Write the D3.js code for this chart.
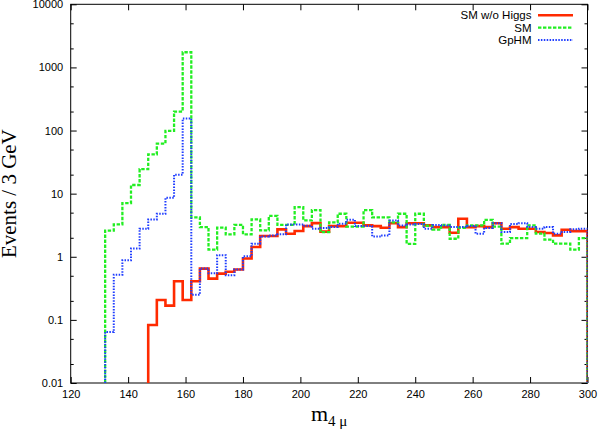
<!DOCTYPE html>
<html>
<head>
<meta charset="utf-8">
<script src="https://cdn.jsdelivr.net/npm/d3@7/dist/d3.min.js"></script>
<style>
body { margin: 0; background: #fff; }
svg { display: block; }
</style>
</head>
<body>
<div id="chart"></div>
<script>
// lower edge of each 3 GeV bin, the last one closes at binEnd
var binStart = [132,135,138,141,144,147,150,153,156,159,162,165,168,171,174,177,180,183,186,189,
  192,195,198,201,204,207,210,213,216,219,222,225,228,231,234,237,240,243,246,249,
  252,255,258,261,264,267,270,273,276,279,282,285,288,291,294,297];
var binEnd = 300;

// events / 3 GeV
var smNoHiggs = [null,null,null,null,null,0.083,0.206,0.168,0.41,0.206,0.41,0.65,0.45,0.54,0.58,0.63,0.94,1.43,2.13,2.13,
  2.72,2.32,2.56,3.06,3.41,2.5,3.06,3.06,3.46,3.46,3.14,3.06,2.88,3.4,2.95,3.4,3.4,3.14,2.95,2.95,
  2.4,4.0,2.95,3.06,2.95,3.4,2.78,2.95,2.78,2.78,2.47,2.38,2.18,2.68,2.55,2.55];
var sm = [2.6,3.25,7.1,13.7,24.5,42,62,99,200,1740,4.2,2.95,1.3,2.9,2.27,3.2,2.27,3.9,2.62,4.46,
  3.2,3.2,6.1,3.77,5.5,2.46,3.5,4.8,3.0,3.0,5.5,4.2,4.2,3.5,4.8,1.6,4.8,3.1,2.7,3.2,
  1.93,2.88,3.14,3.14,3.85,3.0,1.61,1.98,1.98,3.14,2.32,1.87,1.61,1.61,1.3,1.98];
var gphm = [0.064,0.52,0.88,1.35,2.78,3.9,4.8,8.6,20,155,0.25,0.65,0.55,1.06,0.51,0.63,1.02,1.61,2.1,2.18,
  2.27,3.25,3.25,3.1,2.78,2.85,2.95,3.33,3.85,3.06,3.06,2.1,2.18,3.77,3.14,3.25,3.3,2.78,3.2,3.14,
  2.95,2.95,3.06,2.32,2.85,3.4,2.47,3.3,3.4,2.95,2.78,2.95,2.32,2.47,2.72,2.78];

var xTicks = [120,140,160,180,200,220,240,260,280,300];
var yTicks = [0.01,0.1,1,10,100,1000,10000];
var yTickLabels = ["0.01","0.1","1","10","100","1000","10000"];
var yMinor = [0.02,0.05,0.2,0.5,2,5,20,50,200,500,2000,5000];

var seriesNames = ["SM w/o Higgs","SM","GpHM"];

var width = 599, height = 429;
var pLeft = 70.7, pRight = 587.5, pTop = 4.3, pBottom = 383;

var svg = d3.select("#chart").append("svg").attr("width", width).attr("height", height)

var x = d3.scaleLinear().domain([120, 300]).range([pLeft, pRight]);
var y = d3.scaleLog().domain([0.01, 10000]).range([pBottom, pTop]);

svg.append("defs").append("clipPath").attr("id", "plotclip")
  .append("rect").attr("x", pLeft).attr("y", pTop).attr("width", pRight - pLeft).attr("height", pBottom - pTop)

var font = "'Liberation Sans', Arial, sans-serif";

//axes, ticks pointing inward like gnuplot
svg.append("g").attr("transform", "translate(0," + pBottom + ")")
  .call(d3.axisBottom(x).tickValues(xTicks).tickSizeInner(-6).tickSizeOuter(0).tickPadding(7.5).tickFormat(d3.format("d")))
svg.append("g").attr("transform", "translate(0," + pTop + ")")
  .call(d3.axisTop(x).tickValues(xTicks).tickSizeInner(-6).tickSizeOuter(0).tickFormat(""))
svg.append("g").attr("transform", "translate(" + pLeft + ",0)")
  .call(d3.axisLeft(y).tickValues(yTicks).tickSizeInner(-6).tickSizeOuter(0).tickPadding(7.5)
    .tickFormat((d, i) => yTickLabels[i]))
svg.append("g").attr("transform", "translate(" + pLeft + ",0)")
  .call(d3.axisLeft(y).tickValues(yMinor).tickSizeInner(-3).tickSizeOuter(0).tickFormat(""))
svg.append("g").attr("transform", "translate(" + pRight + ",0)")
  .call(d3.axisRight(y).tickValues(yTicks).tickSizeInner(-6).tickSizeOuter(0).tickFormat(""))
svg.append("g").attr("transform", "translate(" + pRight + ",0)")
  .call(d3.axisRight(y).tickValues(yMinor).tickSizeInner(-3).tickSizeOuter(0).tickFormat(""))

svg.selectAll(".domain").remove()
svg.selectAll(".tick line").attr("stroke", "#000").attr("stroke-width", 1)
svg.selectAll(".tick text").attr("font-family", font).attr("font-size", "11px").attr("fill", "#000")

svg.append("rect").attr("x", pLeft).attr("y", pTop).attr("width", pRight - pLeft).attr("height", pBottom - pTop)
  .attr("fill", "none").attr("stroke", "#000").attr("stroke-width", 1)

//histogram steps
function stepPoints(values) {
  var i0 = values.findIndex(v => v != null);
  var pts = [[binStart[i0], 0.01]];
  for (var i = i0; i < values.length; i++) pts.push([binStart[i], values[i]]);
  pts.push([binEnd, values[values.length - 1]]);
  pts.push([binEnd, 0.01]);
  return pts;
}
var line = d3.line()
  .x(d => x(d[0]))
  .y(d => y(Math.max(d[1], 0.01)))
  .curve(d3.curveStepAfter)

var styles = [
  { color: "#ff2a00", width: 2.6, dash: null },
  { color: "#22ee22", width: 2.3, dash: "3.4,1.6" },
  { color: "#1f3dff", width: 2, dash: "1.5,1.4" }
];
var allSeries = [smNoHiggs, sm, gphm];

var plot = svg.append("g").attr("clip-path", "url(#plotclip)")
allSeries.forEach((vals, i) => {
  plot.append("path").datum(stepPoints(vals))
    .attr("d", line)
    .attr("fill", "none")
    .attr("stroke", styles[i].color)
    .attr("stroke-width", styles[i].width)
    .attr("stroke-dasharray", styles[i].dash)
})

//legend
var legend = svg.append("g")
var rowY = [15.3, 27.6, 40];
seriesNames.forEach((name, i) => {
  legend.append("text").text(name)
    .attr("x", 531.5).attr("y", rowY[i]).attr("dy", "0.36em")
    .attr("text-anchor", "end")
    .attr("font-family", font).attr("font-size", "11.5px").attr("fill", "#000")
  legend.append("line")
    .attr("x1", 538).attr("x2", 573).attr("y1", rowY[i]).attr("y2", rowY[i])
    .attr("stroke", styles[i].color)
    .attr("stroke-width", styles[i].width)
    .attr("stroke-dasharray", styles[i].dash)
})

//axis titles
var serif = "'Liberation Serif', 'DejaVu Serif', 'Times New Roman', serif";
svg.append("text")
  .attr("transform", "translate(16," + ((pTop + pBottom) / 2) + ") rotate(-90)")
  .attr("text-anchor", "middle")
  .attr("font-family", serif).attr("font-size", "21px").attr("fill", "#000")
  .text("Events / 3 GeV")

var xt = svg.append("text")
  .attr("x", (pLeft + pRight) / 2).attr("y", 421)
  .attr("text-anchor", "middle")
  .attr("font-family", serif).attr("font-size", "22px").attr("fill", "#000")
xt.append("tspan").text("m")
xt.append("tspan").text("4 μ").attr("font-size", "15px").attr("dy", "5")
</script>
</body>
</html>
